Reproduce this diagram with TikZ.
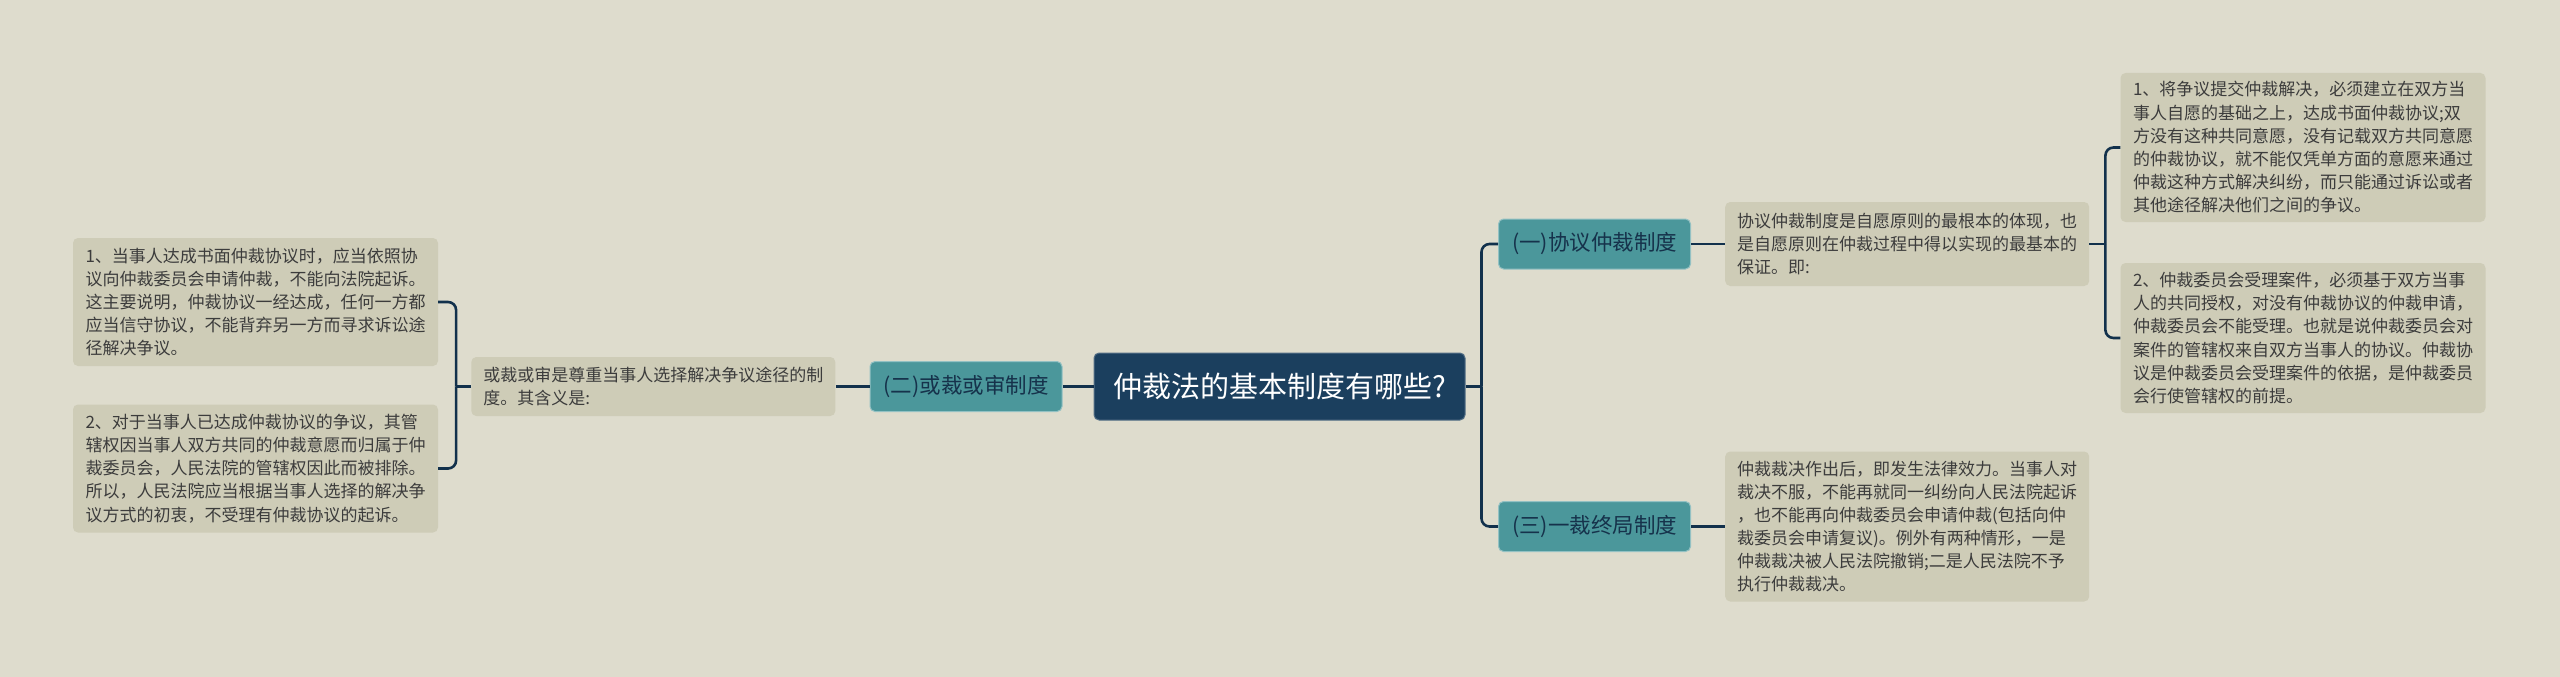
\documentclass[tikz,border=0pt]{standalone}
\usepackage{fontspec}
\setmainfont{Noto Sans CJK SC}
\usetikzlibrary{positioning}

\definecolor{bgcol}{HTML}{DEDCCD}
\definecolor{rootcol}{HTML}{1B3F5E}
\definecolor{branchcol}{HTML}{4B979B}
\definecolor{leafcol}{HTML}{CECCB7}
\definecolor{linkcol}{HTML}{12314C}
\definecolor{textcol}{HTML}{3C3C3C}

\begin{document}
\begin{tikzpicture}[
    x=1pt, y=-1pt,
    rootbox/.style={draw=rootcol!75!white, line width=1pt, fill=rootcol, rounded corners=5pt, minimum width=371pt, minimum height=67pt, text=white, font=\fontsize{29}{35}\selectfont},
    branchbox/.style={draw=branchcol!60!white, line width=1pt, fill=branchcol, rounded corners=5pt, minimum width=192pt, minimum height=50pt, text=rootcol!80!black, font=\fontsize{21.5}{26}\selectfont},
    descbox/.style={fill=leafcol, rounded corners=5pt, minimum width=364pt, align=left, text=textcol, font=\fontsize{17}{23}\selectfont},
    leafbox/.style={fill=leafcol, rounded corners=5pt, minimum width=365pt, align=left, text=textcol, font=\fontsize{17}{23.2}\selectfont},
    link/.style={draw=linkcol, line width=2.6pt, rounded corners=8pt},
    node distance=34pt
  ]
    \fill[bgcol] (0,0) rectangle (2560,677);
    \useasboundingbox (0,0) rectangle (2560,677);

    \node[rootbox] (root) at (1279.5,386.5) {仲裁法的基本制度有哪些?};

    % left side
    \node[branchbox, left=31pt of root] (arbtrial) {(二)或裁或审制度};
    \node[descbox, minimum height=59pt, left=of arbtrial] (arbtrialtxt) {或裁或审是尊重当事人选择解决争议途径的制\\度。其含义是:};
    \node[leafbox, minimum height=128pt] (arbtrial1) at (255.5,302) {1、当事人达成书面仲裁协议时，应当依照协\\议向仲裁委员会申请仲裁，不能向法院起诉。\\这主要说明，仲裁协议一经达成，任何一方都\\应当信守协议，不能背弃另一方而寻求诉讼途\\径解决争议。};
    \node[leafbox, minimum height=128pt] (arbtrial2) at (255.5,468.5) {2、对于当事人已达成仲裁协议的争议，其管\\辖权因当事人双方共同的仲裁意愿而归属于仲\\裁委员会，人民法院的管辖权因此而被排除。\\所以，人民法院应当根据当事人选择的解决争\\议方式的初衷，不受理有仲裁协议的起诉。};

    % right side
    \node[branchbox] (agree) at (1594.5,244) {(一)协议仲裁制度};
    \node[descbox, minimum height=84pt, right=of agree] (agreetxt) {协议仲裁制度是自愿原则的最根本的体现，也\\是自愿原则在仲裁过程中得以实现的最基本的\\保证。即:};
    \node[leafbox, minimum height=149pt] (agree1) at (2303,147.5) {1、将争议提交仲裁解决，必须建立在双方当\\事人自愿的基础之上，达成书面仲裁协议;双\\方没有这种共同意愿，没有记载双方共同意愿\\的仲裁协议，就不能仅凭单方面的意愿来通过\\仲裁这种方式解决纠纷，而只能通过诉讼或者\\其他途径解决他们之间的争议。};
    \node[leafbox, minimum height=150pt] (agree2) at (2303,338) {2、仲裁委员会受理案件，必须基于双方当事\\人的共同授权，对没有仲裁协议的仲裁申请，\\仲裁委员会不能受理。也就是说仲裁委员会对\\案件的管辖权来自双方当事人的协议。仲裁协\\议是仲裁委员会受理案件的依据，是仲裁委员\\会行使管辖权的前提。};

    \node[branchbox] (final) at (1594.5,526.5) {(三)一裁终局制度};
    \node[descbox, minimum height=150pt, right=of final] (finaltxt) {仲裁裁决作出后，即发生法律效力。当事人对\\裁决不服，不能再就同一纠纷向人民法院起诉\\，也不能再向仲裁委员会申请仲裁(包括向仲\\裁委员会申请复议)。例外有两种情形，一是\\仲裁裁决被人民法院撤销;二是人民法院不予\\执行仲裁裁决。};

    % junctions
    \coordinate[left=15pt of arbtrialtxt] (lj);
    \coordinate[right=16pt of root] (rj);
    \coordinate[right=16pt of agreetxt] (aj);

    \draw[link] (root) -- (arbtrial);
    \draw[link] (arbtrial) -- (arbtrialtxt);
    \draw[link] (arbtrialtxt) -- (lj);
    \draw[link] (lj) |- (arbtrial1);
    \draw[link] (lj) |- (arbtrial2);

    \draw[link] (root) -- (rj);
    \draw[link] (rj) |- (agree);
    \draw[link] (rj) |- (final);
    \draw[link] (agree) -- (agreetxt);
    \draw[link] (final) -- (finaltxt);
    \draw[link] (agreetxt) -- (aj);
    \draw[link] (aj) |- (agree1);
    \draw[link] (aj) |- (agree2);
  \end{tikzpicture}
\end{document}
